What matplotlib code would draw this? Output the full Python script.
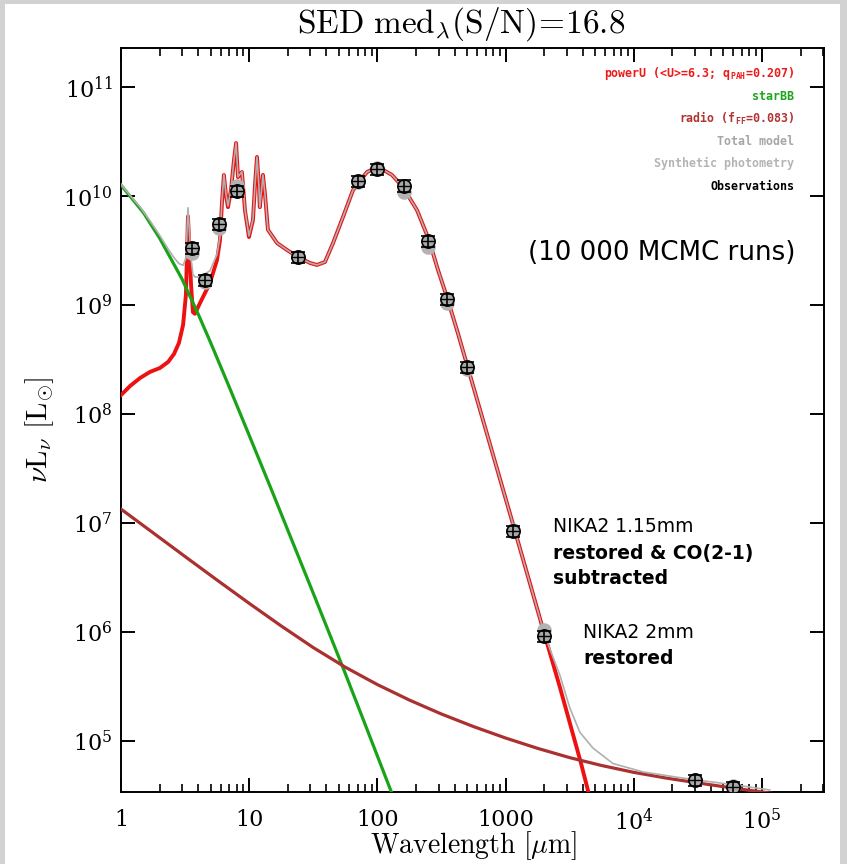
"""
SED fit of the galaxy: dust (powerU), stellar and radio components,
total model, synthetic photometry and observed fluxes.
"""

import matplotlib

matplotlib.use("Agg")
import matplotlib.pyplot as plt
from matplotlib.patches import Rectangle
from matplotlib.ticker import LogLocator, NullFormatter, NullLocator

plt.rcParams["mathtext.fontset"] = "dejavuserif"
plt.rcParams["font.family"] = "DejaVu Serif"

# ---- model components (wavelength in micron, nu L_nu in L_sun) ----
POWERU_WAVE = [1.00, 1.18, 1.41, 1.68, 2.01, 2.33, 2.59, 2.83, 3.05, 3.21,
               3.33, 3.52, 3.64, 3.77, 4.13, 4.94, 5.61, 5.92, 6.13, 6.35,
               6.59, 6.83, 7.21, 7.61, 7.90, 8.18, 8.78, 9.27, 9.96, 10.7,
               11.1, 11.5, 11.9, 12.1, 12.6, 12.8, 13.3, 14.0, 16.5, 19.7,
               24.0, 29.8, 33.8, 39.0, 45.1, 53.9, 64.5, 83.0, 101, 130,
               158, 204, 253, 297, 355, 425, 509, 755, 1184, 2029,
               2656, 3870, 4550]
POWERU_LUM = [1.49e8, 1.81e8, 2.14e8, 2.43e8, 2.64e8, 3.0e8, 3.55e8, 4.48e8, 6.56e8, 1.24e9,
              6.5e9, 1.52e9, 8.6e8, 8.3e8, 1.04e9, 1.59e9, 2.59e9, 3.94e9, 8.6e9, 1.56e10,
              1.02e10, 7.9e9, 1.13e10, 2.14e10, 3.06e10, 1.49e10, 1.66e10, 7.4e9, 4.2e9, 6.0e9,
              1.26e10, 2.28e10, 1.26e10, 7.9e9, 1.26e10, 1.56e10, 1.02e10, 4.9e9, 3.7e9, 3.2e9,
              2.76e9, 2.43e9, 2.33e9, 2.48e9, 3.7e9, 6.4e9, 1.13e10, 1.66e10, 1.85e10, 1.56e10,
              1.21e10, 7.4e9, 3.94e9, 2.1e9, 1.11e9, 5.5e8, 2.64e8, 5.3e7, 8.45e6, 9.2e5,
              3.1e5, 6.3e4, 3.0e4]

STAR_WAVE = [1.0, 1.5, 2.0, 3.0, 4.0, 5.0, 7.0, 10, 15.1, 20, 32.6, 53.9, 75.9, 130, 160]
STAR_LUM = [1.26e10, 7.0e9, 4.11e9, 1.72e9, 8.26e8, 4.52e8, 1.76e8, 6.37e7, 1.95e7, 8.6e6,
            2.07e6, 4.71e5, 1.68e5, 3.29e4, 1.75e4]

RADIO_WAVE = [1.0, 1.78, 3.16, 5.62, 10, 17.8, 31.6, 56.2, 100, 178,
              316, 562, 1000, 1778, 3162, 5623, 1.0e4, 1.78e4, 3.16e4, 5.62e4,
              1.0e5, 1.2e5]
RADIO_LUM = [1.34e7, 8.12e6, 4.92e6, 2.99e6, 1.83e6, 1.134e6, 7.19e5, 4.75e5, 3.29e5, 2.37e5,
             1.766e5, 1.355e5, 1.064e5, 8.55e4, 7.03e4, 5.95e4, 5.15e4, 4.57e4, 4.12e4, 3.73e4,
             3.40e4, 3.30e4]

TOTAL_WAVE = [1.00, 1.18, 1.41, 1.68, 2.01, 2.33, 2.59, 2.83, 3.05, 3.21,
              3.33, 3.52, 3.64, 3.77, 4.13, 4.94, 5.61, 5.92, 6.13, 6.35,
              6.59, 6.83, 7.21, 7.61, 7.90, 8.18, 8.78, 9.27, 9.96, 10.7,
              11.1, 11.5, 11.9, 12.1, 12.6, 12.8, 13.3, 14.0, 16.5, 19.7,
              24.0, 29.8, 33.8, 39.0, 45.1, 53.9, 64.5, 83.0, 101, 130,
              158, 204, 253, 297, 355, 425, 509, 755, 1184, 2029,
              2656, 3177, 3800, 4808, 6890, 1.18e4, 2.17e4, 3.05e4, 6.15e4, 1.15e5]
TOTAL_LUM = [1.28e10, 1.01e10, 7.9e9, 5.93e9, 4.33e9, 3.27e9, 2.72e9, 2.4e9, 2.31e9, 2.69e9,
             7.8e9, 2.67e9, 1.91e9, 1.81e9, 1.8e9, 2.06e9, 2.92e9, 4.22e9, 8.9e9, 1.58e10,
             1.04e10, 8.1e9, 1.15e10, 2.15e10, 3.07e10, 1.5e10, 1.67e10, 7.5e9, 4.3e9, 6.1e9,
             1.26e10, 2.28e10, 1.26e10, 7.9e9, 1.26e10, 1.56e10, 1.02e10, 4.9e9, 3.7e9, 3.2e9,
             2.76e9, 2.43e9, 2.33e9, 2.48e9, 3.7e9, 6.4e9, 1.13e10, 1.66e10, 1.85e10, 1.56e10,
             1.21e10, 7.4e9, 3.94e9, 2.1e9, 1.11e9, 5.5e8, 2.64e8, 5.3e7, 8.45e6, 9.2e5,
             4.0e5, 2.0e5, 1.2e5, 8.6e4, 6.2e4, 5.2e4, 4.65e4, 4.39e4, 3.95e4, 3.55e4]

# ---- photometry ----
OBS_WAVE = [3.6, 4.5, 5.8, 8.0, 24, 70, 100, 160, 250, 350, 500, 1150, 2000, 30000, 60000]
OBS_LUM = [3.33e9, 1.69e9, 5.5e9, 1.11e10, 2.75e9, 1.37e10, 1.77e10, 1.24e10, 3.87e9,
           1.13e9, 2.7e8, 8.45e6, 9.2e5, 4.39e4, 3.79e4]
OBS_ERR = [4.0e8, 2.0e8, 6.6e8, 1.3e9, 3.3e8, 1.6e9, 2.1e9, 1.5e9, 4.6e8,
           1.4e8, 3.2e7, 1.0e6, 1.1e5, 5.3e3, 4.5e3]
SYN_LUM = [3.0e9, 1.63e9, 5.1e9, 1.24e10, 2.75e9, 1.34e10, 1.81e10, 1.09e10, 3.4e9,
           1.04e9, 2.59e8, 8.6e6, 1.04e6, 4.39e4, 3.86e4]

X_TICKS = [1, 10, 100, 1000, 1e4, 1e5]
X_TICK_LABELS = ["1", "10", "100", "1000", r"$10^4$", r"$10^5$"]
Y_TICKS = [1e5, 1e6, 1e7, 1e8, 1e9, 1e10, 1e11]
Y_TICK_LABELS = [r"$10^{5}$", r"$10^{6}$", r"$10^{7}$", r"$10^{8}$",
                 r"$10^{9}$", r"$10^{10}$", r"$10^{11}$"]

LEGEND = [
    (r"powerU (<U>=6.3; q$_\mathregular{PAH}$=0.207)", "#ee1a1a"),
    ("starBB", "#1ea51e"),
    (r"radio (f$_\mathregular{FF}$=0.083)", "#b03434"),
    ("Total model", "#a6a6a6"),
    ("Synthetic photometry", "#b4b4b4"),
    ("Observations", "black"),
]

W, H = 847, 864


def fx(px):
    return px / W


def fy(py):
    return 1 - py / H


fig = plt.figure(figsize=(W / 100, H / 100), dpi=100)
fig.patch.set_facecolor("#d2d2d2")
fig.add_artist(Rectangle((fx(5), 0), fx(835), fy(4), transform=fig.transFigure,
                         facecolor="white", edgecolor="none", zorder=-5))

ax = fig.add_axes([fx(121), fy(792), fx(703), 744 / H])
ax.set_xscale("log")
ax.set_yscale("log")

ax.plot(POWERU_WAVE, POWERU_LUM, color="#ee1111", lw=2.8, zorder=3,
        solid_joinstyle="round")
ax.plot(STAR_WAVE, STAR_LUM, color="#19a319", lw=2.3, zorder=3.5)
ax.plot(RADIO_WAVE, RADIO_LUM, color="#ab3131", lw=2.3, zorder=3.5)
ax.plot(TOTAL_WAVE, TOTAL_LUM, color="#b0b0b0", lw=1.2, zorder=4,
        solid_joinstyle="round")

ax.plot(OBS_WAVE, SYN_LUM, "o", ms=10.5, color="#b3b3b3", mec="none", zorder=5)
ax.plot(OBS_WAVE, OBS_LUM, "o", ms=9.5, mfc="#a9a9a9", mec="black", mew=1.2,
        zorder=6)
ax.errorbar(OBS_WAVE, OBS_LUM, yerr=OBS_ERR, fmt="none", ecolor="black",
            elinewidth=1.2, capsize=5, capthick=1.2, zorder=7)
ax.plot(OBS_WAVE, OBS_LUM, "_", ms=9.5, color="black", mew=1.0, zorder=7)

ax.set_xlim(1, 3.05e5)
ax.set_ylim(3.4e4, 2.28e11)
ax.set_xticks(X_TICKS, X_TICK_LABELS)
ax.xaxis.set_minor_locator(LogLocator(base=10, subs=range(2, 10), numticks=20))
ax.xaxis.set_minor_formatter(NullFormatter())
ax.set_yticks(Y_TICKS, Y_TICK_LABELS)
ax.yaxis.set_minor_locator(NullLocator())
ax.tick_params(which="both", direction="in", top=True, right=True, width=1.4)
ax.tick_params(which="major", length=10, labelsize=16)
ax.tick_params(which="minor", length=5.5, width=1.2)
ax.tick_params(axis="x", which="major", pad=12)
ax.tick_params(axis="y", which="major", pad=6)
for spine in ax.spines.values():
    spine.set_linewidth(1.4)

for i, (label, color) in enumerate(LEGEND):
    fig.text(fx(794), fy(74 + 22.4 * i), label, color=color, ha="right",
             va="center", family="DejaVu Sans Mono", weight="bold", size=8.4)

fig.text(fx(795), fy(253), "(10 000 MCMC runs)", ha="right", va="center",
         family="DejaVu Sans", size=18.8)

fig.text(fx(553), fy(527), "NIKA2 1.15mm", ha="left", va="center",
         family="DejaVu Sans", size=13.5)
fig.text(fx(553), fy(553), "restored & CO(2-1)", ha="left", va="center",
         family="DejaVu Sans", weight="bold", size=13.5)
fig.text(fx(553), fy(578), "subtracted", ha="left", va="center",
         family="DejaVu Sans", weight="bold", size=13.5)
fig.text(fx(583), fy(633), "NIKA2 2mm", ha="left", va="center",
         family="DejaVu Sans", size=13.5)
fig.text(fx(583), fy(658), "restored", ha="left", va="center",
         family="DejaVu Sans", weight="bold", size=13.5)

fig.text(fx(461), fy(33), r"$\mathrm{SED\ med}_{\lambda}\mathrm{(S/N)}\!=\!\mathrm{16.8}$",
         ha="center", va="baseline", size=24, math_fontfamily="cm")
fig.text(fx(40), fy(430), r"$\nu\mathrm{L}_{\nu}\ [\mathrm{L}_{\odot}]$",
         rotation=90, ha="center", va="center", size=21, math_fontfamily="cm")
fig.text(fx(473), fy(846), r"$\mathrm{Wavelength}\ [\mu\mathrm{m}]$",
         ha="center", va="center", size=20, math_fontfamily="cm")

fig.savefig("out.png", dpi=100, facecolor=fig.get_facecolor())
